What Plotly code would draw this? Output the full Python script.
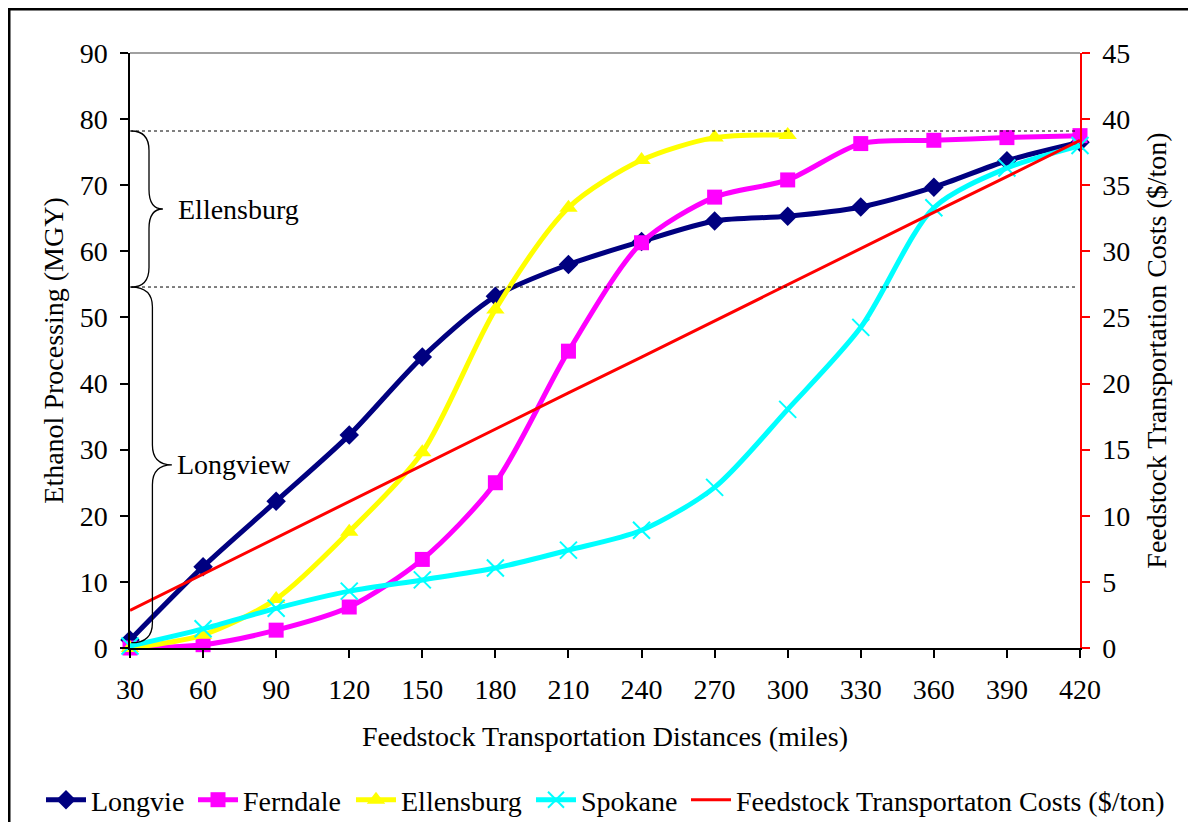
import plotly.graph_objects as go

distances = [30, 60, 90, 120, 150, 180, 210, 240, 270, 300, 330, 360, 390, 420]
longview = [1.2, 12.3, 22.2, 32.2, 44.0, 53.2, 58.0, 61.5, 64.6, 65.3, 66.7, 69.7, 73.7, 76.5]
ferndale = [0.0, 0.5, 2.7, 6.2, 13.4, 25.0, 44.9, 61.3, 68.2, 70.8, 76.3, 76.8, 77.2, 77.5]
ellensburg = [0.0, 2.0, 7.4, 17.6, 29.6, 51.2, 66.6, 73.8, 77.2, 77.6, None, None, None, None]
spokane = [0.3, 2.9, 6.0, 8.6, 10.3, 12.1, 14.8, 17.8, 24.3, 36.1, 48.5, 66.6, 72.6, 76.0]
cost = [2.85, 5.6, 8.35, 11.1, 13.8, 16.55, 19.3, 22.0, 24.75, 27.45, 30.2, 32.95, 35.65, 38.4]

ellensburg_band = [78.2, 54.6]
longview_band = [54.6, 0.8]

FONT = "Liberation Serif, Times New Roman, serif"
FS = 28

# page has an 8px body margin, so the figure is 8px smaller than the window
W, H = 1188, 814
L, R, T, B = 122, 116, 45, 174
PW, PH = W - L - R, H - T - B
LEG_Y = -(792 - (H - B)) / PH

fig = go.Figure()

def series(name, y, color, symbol, size, lw, mline=None):
    fig.add_trace(go.Scatter(
        x=distances, y=y, name=name, mode="lines+markers",
        line=dict(color=color, width=5, shape="spline", smoothing=0.8),
        marker=dict(color=color, symbol=symbol, size=size,
                    line=mline if mline else dict(width=0)),
        cliponaxis=False, connectgaps=False, legend="legend", legendwidth=lw,
    ))

series("Longvie", longview, "#000080", "diamond", 15, 97)
series("Ferndale", ferndale, "#FF00FF", "square", 15, 103)
series("Ellensburg", ellensburg, "#FFFF00", "triangle-up", 16, 125)
series("Spokane", spokane, "#00FFFF", "x-thin", 17, 100, dict(color="#00FFFF", width=2))

fig.add_trace(go.Scatter(
    x=distances, y=cost, name="Feedstock Transportaton Costs ($/ton)",
    mode="lines", line=dict(color="#FF0000", width=3), yaxis="y2", cliponaxis=False,
    legend="legend2",
))

shapes = []
for yv in (ellensburg_band[0], ellensburg_band[1]):
    shapes.append(dict(type="line", xref="x", yref="y", x0=30, x1=419, y0=yv, y1=yv,
                       line=dict(color="black", width=1, dash="dot")))

def brace(top, bot, xs, xv, xt):
    mid = (top + bot) / 2
    r = min(3.0, (top - bot) / 8)
    return (f"M {xs},{top} Q {xv},{top} {xv},{top - r} L {xv},{mid + r} "
            f"Q {xv},{mid} {xt},{mid} Q {xv},{mid} {xv},{mid - r} "
            f"L {xv},{bot + r} Q {xv},{bot} {xs},{bot}")

shapes.append(dict(type="path", xref="x", yref="y",
                   path=brace(ellensburg_band[0], ellensburg_band[1], 30.5, 37.8, 43.5),
                   line=dict(color="black", width=1.3)))
shapes.append(dict(type="path", xref="x", yref="y",
                   path=brace(longview_band[0], longview_band[1], 30.5, 39.2, 47.2),
                   line=dict(color="black", width=1.3)))
shapes.append(dict(type="line", xref="paper", yref="paper", x0=0, x1=1, y0=1, y1=1,
                   line=dict(color="#808080", width=1.5)))
shapes.append(dict(type="rect", xref="paper", yref="paper",
                   x0=(1 - L) / PW, x1=(W + 50 - L) / PW,
                   y0=-(B + 50) / PH, y1=1 + (T - 1) / PH,
                   line=dict(color="black", width=3), layer="below"))

annotations = [
    dict(x=48.9, y=sum(ellensburg_band) / 2, xref="x", yref="y", text="Ellensburg",
         showarrow=False, xanchor="left", yanchor="middle",
         font=dict(family=FONT, size=FS, color="black")),
    dict(x=48.5, y=sum(longview_band) / 2, xref="x", yref="y", text="Longview",
         showarrow=False, xanchor="left", yanchor="middle",
         font=dict(family=FONT, size=FS, color="black")),
]

legend_common = dict(orientation="h", yanchor="middle", xanchor="left",
                     font=dict(family=FONT, size=FS, color="black"),
                     itemwidth=40, tracegroupgap=0, bgcolor="rgba(0,0,0,0)")

fig.update_layout(
    width=W, height=H,
    margin=dict(l=L, r=R, t=T, b=B, autoexpand=False),
    paper_bgcolor="white", plot_bgcolor="white",
    font=dict(family=FONT, size=FS, color="black"),
    showlegend=True,
    legend=dict(x=(33 - L) / PW, y=LEG_Y, **legend_common),
    legend2=dict(x=(678 - L) / PW, y=LEG_Y, **legend_common),
    xaxis=dict(range=[30, 420], tickmode="array", tickvals=distances,
               ticktext=[str(d) for d in distances], automargin=False,
               showgrid=False, zeroline=False, showline=True, linecolor="black", linewidth=1.5,
               ticks="outside", ticklen=8, tickcolor="black", tickwidth=1.5,
               ticklabelstandoff=8,
               tickfont=dict(family=FONT, size=FS),
               title=dict(text="Feedstock Transportation Distances (miles)", standoff=22,
                          font=dict(family=FONT, size=FS))),
    yaxis=dict(range=[0, 90], dtick=10, showgrid=False, zeroline=False, automargin=False,
               showline=True, linecolor="black", linewidth=1.5,
               ticks="outside", ticklen=8, tickcolor="black", tickwidth=1.5,
               ticklabelstandoff=7,
               tickfont=dict(family=FONT, size=FS),
               title=dict(text="Ethanol Processing (MGY)", standoff=8,
                          font=dict(family=FONT, size=FS))),
    yaxis2=dict(range=[0, 45], dtick=5, overlaying="y", side="right", showgrid=False,
                zeroline=False, showline=True, linecolor="#FF0000", linewidth=1.5, automargin=False,
                ticks="outside", ticklen=8, tickcolor="#FF0000", tickwidth=1.5,
                ticklabelstandoff=7,
                tickfont=dict(family=FONT, size=FS),
                title=dict(text="Feedstock Transportation Costs ($/ton)", standoff=17,
                           font=dict(family=FONT, size=FS))),
    shapes=shapes, annotations=annotations,
)

fig.write_html("out.html")
